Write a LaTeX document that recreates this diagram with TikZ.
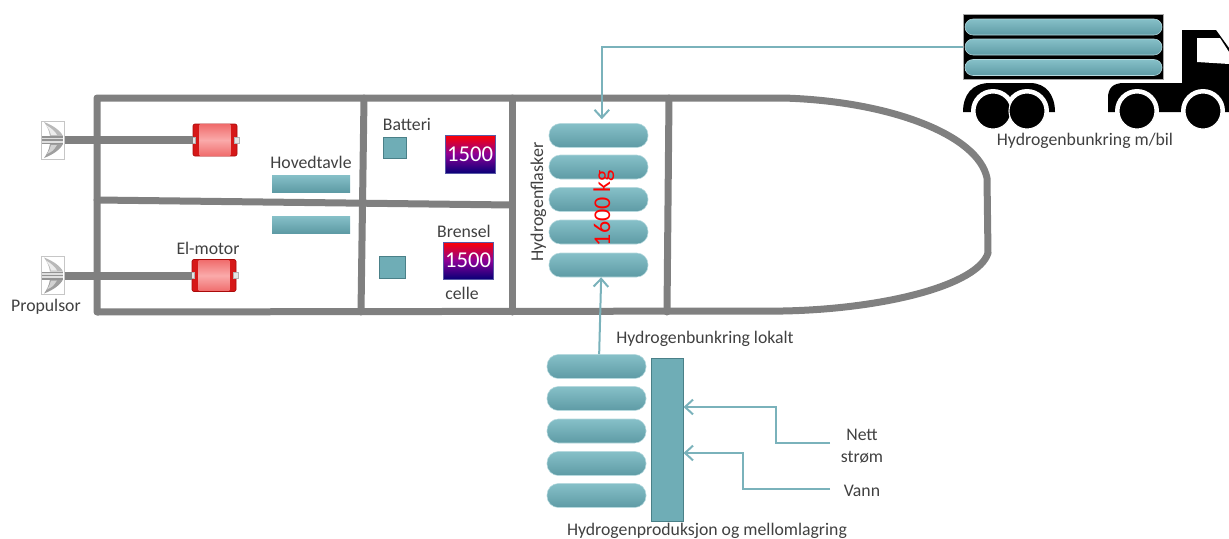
\documentclass[tikz,border=0pt]{standalone}
\usepackage{fontspec}
\setmainfont{Carlito}
\usetikzlibrary{arrows.meta,calc}
\definecolor{hullgray}{RGB}{128,128,128}
\definecolor{capTop}{RGB}{134,192,200}
\definecolor{capBot}{RGB}{94,155,165}
\definecolor{tealfill}{RGB}{111,173,182}
\definecolor{tealline}{RGB}{74,128,136}
\definecolor{pipeteal}{RGB}{122,178,187}
\definecolor{txt}{RGB}{64,64,64}
\definecolor{motorred}{RGB}{214,24,24}
\definecolor{motordark}{RGB}{170,10,10}
\definecolor{pinkA}{RGB}{240,110,110}
\definecolor{pinkB}{RGB}{250,170,170}
\definecolor{gradTop}{RGB}{255,0,0}
\definecolor{gradMid}{RGB}{140,0,150}
\definecolor{gradBot}{RGB}{10,0,120}
\tikzset{
  hullline/.style={draw=hullgray, line width=5.25pt, line join=round, line cap=round},
  shaft/.style={draw=hullgray, line width=6pt},
  label/.style={text=txt, font=\fontsize{13.3}{16}\selectfont, inner sep=0pt, anchor=base},
  capsule/.style={rounded corners=8.5pt, top color=capTop, bottom color=capBot,
    draw=capTop!60!white, line width=0.4pt, minimum width=74.25pt,
    minimum height=18pt, inner sep=0pt},
  truckcap/.style={capsule, rounded corners=6pt, minimum width=147.75pt, minimum height=12pt},
  tealbox/.style={fill=tealfill, draw=tealline, line width=0.75pt, inner sep=0pt},
  boardbox/.style={top color=capTop, bottom color=capBot, draw=none, inner sep=0pt,
    minimum width=58.5pt, minimum height=12.75pt},
  gradbox/.style={top color=gradTop, bottom color=gradBot, middle color=gradMid,
    draw=gray!70!blue, line width=0.5pt, text=white, font=\fontsize{17}{20}\selectfont,
    minimum width=37.5pt, minimum height=28.5pt, inner sep=0pt},
  motor/.style={fill=motorred, draw=motordark, line width=0.5pt, rounded corners=1.5pt,
    minimum width=33pt, minimum height=24pt, inner sep=0pt},
  propbox/.style={draw=gray!45, line width=0.5pt, fill=white, minimum width=17pt,
    minimum height=28.5pt, inner sep=0pt},
  pipe/.style={draw=pipeteal, line width=1.5pt, -{Straight Barb[length=6pt,width=11pt]}},
}
% electric motor with its shaft bearings
\newcommand\motorat[3]{%
  \node[motor] (#1) at (#2,#3) {};
  \shade[top color=pinkA, bottom color=pinkA, middle color=pinkB]
    ($(#1.north west)+(7,1)$) rectangle ($(#1.south east)+(-7,-1)$);
  \draw[fill=gray!20, draw=gray!60, line width=0.3pt]
    ($(#1.west)+(-2,-3)$) rectangle ($(#1.west)+(3,3)$);
  \draw[fill=gray!20, draw=gray!60, line width=0.3pt]
    ($(#1.east)+(-3,-3)$) rectangle ($(#1.east)+(2,3)$);
}
% propeller symbol
\newcommand\propat[3]{%
  \begin{scope}[shift={(#2,#3)}]
    \node[propbox] (#1) at (0,0) {};
    \fill[gray!55] (-9,-18) .. controls (-1,-15) and (7,-10) .. (10,-4)
      -- (-3,-4) .. controls (-4,-10) and (-6,-14) .. cycle;
    \fill[gray!15] (-7,-15) .. controls (-2,-12) and (2,-9) .. (4,-5)
      -- (-2,-5) .. controls (-3,-9) .. cycle;
    \fill[gray!75] (10,4) -- (-3,4) .. controls (-4,10) and (-6,14) .. (-9,18)
      .. controls (-1,15) and (7,10) .. cycle;
    \fill[gray!35] (-2,5) .. controls (-3,9) .. (-6,14) .. controls (0,11) .. (4,5) -- cycle;
    \fill[gray!85] (-11,-4) rectangle (10,-2.5);
    \fill[gray!25] (-11,-2.5) rectangle (10,-0.8);
    \fill[gray!85] (-11,-0.8) rectangle (10,0.8);
    \fill[gray!25] (-11,0.8) rectangle (10,2.5);
    \fill[gray!85] (-11,2.5) rectangle (10,4);
  \end{scope}
}
\begin{document}
\begin{tikzpicture}[x=0.75pt,y=-0.75pt]
\useasboundingbox (0,0) rectangle (1229,539);

% ---------- hull and bulkheads ----------
\draw[hullline] (97,98) -- (783,98)
  .. controls (890,101) and (978,135) .. (987,178)
  -- (988,253)
  .. controls (978,285) and (885,309) .. (783,311)
  -- (97,312) -- cycle;
\draw[hullline] (97,200) -- (512,205);
\draw[hullline] (364,98) -- (361,312);
\draw[hullline] (512,98) -- (512,312);
\draw[hullline] (669,98) -- (667,312);

% ---------- propulsion ----------
\propat{p1}{53}{140}
\propat{p2}{53}{275.5}
\motorat{m1}{215}{140}
\motorat{m2}{214}{275.5}
\draw[shaft] (p1.east) -- (m1.west);
\draw[shaft] (p2.east) -- (m2.west);
\node[label] at (46,311) {Propulsor};
\node[label] at (208,254.5) {El-motor};

% main switchboard
\node[label] at (311,168) {Hovedtavle};
\node[boardbox] (hv1) at (311,183.5) {};
\node[boardbox] (hv2) at (311,224.5) {};

% battery and fuel cell
\node[label] at (407,130) {Batteri};
\node[tealbox, minimum width=17.25pt, minimum height=15.75pt] (bsq) at (394.5,147.5) {};
\node[gradbox] (bat) at (470,154) {1500};
\node[label] at (464,237) {Brensel};
\node[label] at (462,299) {celle};
\node[tealbox, minimum width=19.5pt, minimum height=16.5pt] (fsq) at (392.5,267) {};
\node[gradbox, minimum height=27.75pt] (fc) at (468,260.5) {1500};

% hydrogen storage on board
\foreach \i/\y in {1/135.5,2/167,3/199.5,4/232,5/265}
  \node[capsule] (t\i) at (598.5,\y) {};
\node[label, rotate=90, font=\fontsize{13.5}{16}\selectfont] at (543,202) {Hydrogenflasker};
\node[label, rotate=90, text=red, font=\fontsize{18}{20}\selectfont] at (610,208) {1600 kg};

% ---------- truck ----------
\node[draw=gray!70, fill=black, line width=0.5pt, minimum width=150pt,
  minimum height=48.75pt, inner sep=0pt] (frame) at (1063,46.5) {};
\foreach \i/\y in {1/27,2/47,3/67.5}
  \node[truckcap] (c\i) at (1063.5,\y) {};
% rear fender and wheels
\fill[black] (963,112) .. controls (963,95) and (972,83) .. (990,83)
  -- (1030,83) .. controls (1046,83) and (1055,95) .. (1055,112) -- cycle;
% cab and chassis
\fill[black] (1108,112) -- (1108,98) .. controls (1108,88) and (1113,83) .. (1124,83)
  -- (1182,83) -- (1182,30) -- (1216,30) -- (1229,48) -- (1229,112) -- cycle;
\fill[white] (1197,38) -- (1220,38) -- (1229,52) -- (1229,64) -- (1197,62) -- cycle;
\foreach \x in {993,1027,1137,1203}
  \fill[white] (\x,111) circle [radius=22];
\foreach \x in {993,1027,1137,1203}
  \filldraw[fill=black, draw=white, line width=0.8pt] (\x,111) circle [radius=18];
\node[label] at (1085,145) {Hydrogenbunkring m/bil};

% ---------- production and intermediate storage ----------
\foreach \i/\y in {1/366.5,2/398.5,3/431,4/463.5,5/495.5}
  \node[capsule] (b\i) at (596.5,\y) {};
\node[tealbox, minimum width=24pt, minimum height=122.25pt] (elec) at (667,439.5) {};
\node[label] at (705,343) {Hydrogenbunkring lokalt};
\node[label] at (707,535.5) {Hydrogenproduksjon og mellomlagring};
\node[label] at (862,440) {Nett};
\node[label] at (862,462) {strøm};
\node[label] at (862,496) {Vann};

% ---------- hydrogen and supply lines ----------
\draw[pipe, shorten >=3pt] (frame.west) -| ([xshift=2.5pt]t1.north);
\draw[pipe] ([xshift=2pt]b1.north) -- ([xshift=2pt]t5.south);
\coordinate (nett) at (830,443);
\coordinate (nettIn) at (776,407);
\coordinate (vann) at (830,489);
\coordinate (vannIn) at (743,453);
\draw[pipe] (nett) -| (nettIn) -- (nettIn -| elec.east);
\draw[pipe] (vann) -| (vannIn) -- (vannIn -| elec.east);
\end{tikzpicture}
\end{document}
